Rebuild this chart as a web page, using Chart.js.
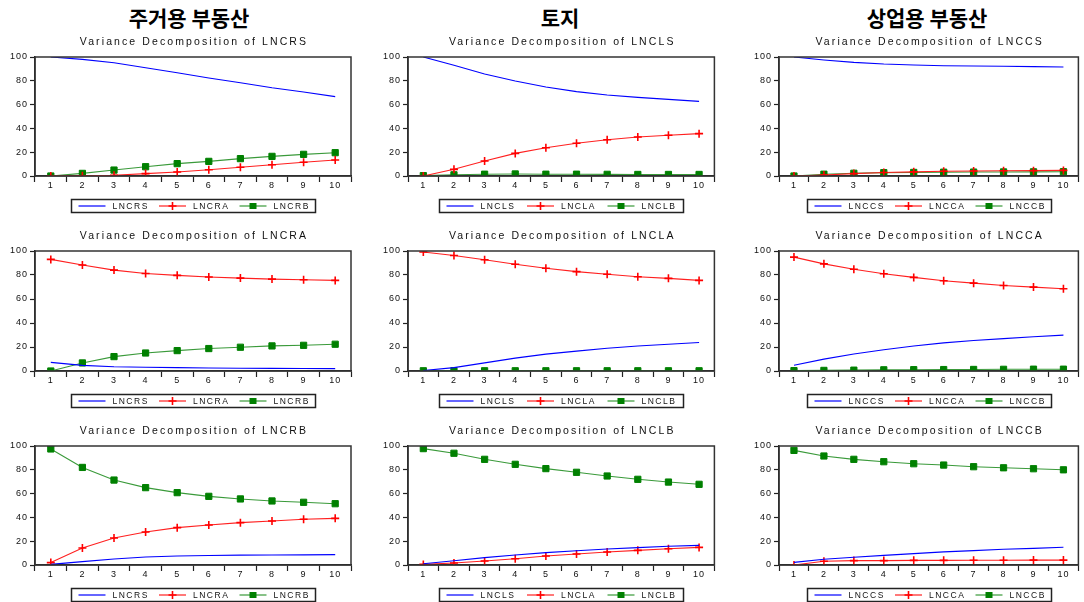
<!DOCTYPE html>
<html>
<head>
<meta charset="utf-8">
<script src="https://cdn.jsdelivr.net/npm/chart.js@4/dist/chart.umd.min.js"></script>
<style>
  body { margin: 0; background: #fff; }
  #wrap { position: relative; width: 1084px; height: 602px; overflow: hidden; }
  .panel { position: absolute; }
  .head {
    position: absolute; top: 4px; width: 300px; text-align: center;
    font-family: "Noto Sans CJK KR", sans-serif; font-weight: bold;
    font-size: 21px; line-height: 26px; color: #000;
  }
</style>
</head>
<body>
<div id="wrap"></div>
<script>
const periods = ['1', '2', '3', '4', '5', '6', '7', '8', '9', '10'];
const groupTitles = ['주거용 부동산', '토지', '상업용 부동산'];
const resLabels = ['LNCRS', 'LNCRA', 'LNCRB'];
const landLabels = ['LNCLS', 'LNCLA', 'LNCLB'];
const comLabels = ['LNCCS', 'LNCCA', 'LNCCB'];

// residential: decomposition of LNCRS / LNCRA / LNCRB
const crs_s = [100, 98, 95.2, 91, 86.8, 82.4, 78.4, 74.2, 70.6, 66.7];
const crs_a = [0, 0.2, 0.6, 2, 3.4, 5.3, 7.3, 9.5, 11.5, 13.4];
const crs_b = [0, 2.2, 5, 7.8, 10.4, 12.3, 14.6, 16.5, 18.2, 19.6];

const cra_s = [7.2, 4.7, 3.6, 3.1, 2.8, 2.5, 2.3, 2.2, 2.1, 2.0];
const cra_a = [93, 88.3, 84.1, 81.3, 79.7, 78.3, 77.4, 76.6, 76, 75.5];
const cra_b = [0, 6.7, 12, 15, 17, 18.7, 19.8, 20.9, 21.4, 22.3];

const crb_s = [0.5, 2.8, 5, 6.7, 7.6, 8, 8.3, 8.4, 8.5, 8.7];
const crb_a = [2, 14.3, 22.7, 27.7, 31.4, 33.6, 35.6, 37, 38.4, 39.2];
const crb_b = [97.5, 82, 71.4, 65, 60.8, 57.7, 55.5, 53.8, 52.7, 51.5];

// land: decomposition of LNCLS / LNCLA / LNCLB
const cls_s = [100, 93, 85.7, 79.8, 74.8, 70.9, 68.1, 66.1, 64.4, 62.7];
const cls_a = [0, 5.6, 12.6, 19, 23.8, 27.5, 30.5, 32.8, 34.2, 35.6];
const cls_b = [0.3, 1.0, 1.5, 1.7, 1.5, 1.5, 1.4, 1.3, 1.3, 1.3];

const cla_s = [0.4, 2.8, 6.8, 10.7, 14.1, 16.6, 18.9, 20.8, 22.3, 23.7];
const cla_a = [99.2, 96.3, 92.7, 89, 85.6, 82.8, 80.6, 78.6, 77.2, 75.5];
const cla_b = [0.2, 0.2, 0.2, 0.2, 0.2, 0.2, 0.2, 0.2, 0.2, 0.2];

const clb_s = [1.1, 3.6, 6.2, 8.4, 10.4, 12, 13.4, 14.6, 15.7, 16.5];
const clb_a = [0.5, 1.7, 3.4, 5.3, 7.6, 9.2, 10.9, 12.3, 13.7, 14.8];
const clb_b = [97.8, 93.9, 88.8, 84.6, 81, 77.9, 74.8, 72, 69.7, 67.8];

// commercial: decomposition of LNCCS / LNCCA / LNCCB
const ccs_s = [100, 97.5, 95.5, 94.1, 93.3, 92.7, 92.4, 92.2, 91.9, 91.6];
const ccs_a = [0, 0.8, 2.0, 3.0, 3.5, 4.0, 4.2, 4.4, 4.5, 4.7];
const ccs_b = [0, 1.5, 2.3, 2.8, 3.0, 3.2, 3.3, 3.4, 3.5, 3.6];

const cca_s = [4.8, 9.9, 14.1, 17.7, 20.8, 23.4, 25.4, 27, 28.5, 29.9];
const cca_a = [94.9, 89.3, 84.8, 81.1, 78, 75.2, 73.2, 71.3, 69.9, 68.5];
const cca_b = [0.3, 0.5, 0.7, 1.0, 1.1, 1.2, 1.3, 1.4, 1.5, 1.5];

const ccb_s = [2.2, 4.8, 6.5, 8.1, 9.6, 11, 12.1, 13.2, 14, 14.9];
const ccb_a = [0, 3.1, 3.7, 3.7, 3.9, 3.9, 4, 4, 4.1, 4.1];
const ccb_b = [96.3, 91.6, 88.8, 86.8, 85.1, 84, 82.6, 81.7, 80.9, 80];

const yTicks = [0, 20, 40, 60, 80, 100];

// panel layout (pixels)
const colLeft = [0, 360, 720];
const colWidth = [360, 360, 364];
const plotLeft = [35, 48, 59];
const padRight = [9, 2, 3];
const rowTop = [0, 215, 410];
const rowHeight = [215, 195, 192];
const plotTop = [57, 36, 36];
const plotBottom = [176, 156, 155];
const headCenter = [189, 560, 927];

const Y_AXIS_W = 30;
const X_AXIS_H = 20;
const FONT = '"Liberation Sans", Arial, sans-serif';

const seriesStyle = [
  { color: '#0000ff', line: '#0000ff', point: false },
  { color: '#ff0000', line: '#ff2020', point: 'cross' },
  { color: '#008000', line: '#3a9a3a', point: 'rect' }
];

function drawMarker(ctx, kind, x, y, color) {
  ctx.save();
  if (kind === 'cross') {
    ctx.strokeStyle = color;
    ctx.lineWidth = 1.6;
    ctx.beginPath();
    ctx.moveTo(x - 4, y); ctx.lineTo(x + 4, y);
    ctx.moveTo(x, y - 4); ctx.lineTo(x, y + 4);
    ctx.stroke();
  } else if (kind === 'rect') {
    ctx.fillStyle = color;
    ctx.fillRect(x - 3.5, y - 3, 7, 6);
  }
  ctx.restore();
}

const decoPlugin = {
  id: 'deco',
  beforeDraw(chart) {
    chart.ctx.letterSpacing = '1px';
  },
  afterDraw(chart, args, opts) {
    const ctx = chart.ctx;
    const a = chart.chartArea;
    const cx = (a.left + a.right) / 2;
    ctx.save();
    // plot frame
    ctx.strokeStyle = '#333';
    ctx.lineWidth = 1.5;
    ctx.strokeRect(a.left, a.top, a.right - a.left, a.bottom - a.top);

    // subtitle
    ctx.letterSpacing = '2.1px';
    ctx.fillStyle = '#111';
    ctx.font = '10.5px ' + FONT;
    ctx.textAlign = 'center';
    ctx.textBaseline = 'middle';
    ctx.fillText(opts.title, cx + 1, a.top - 15);

    // legend box
    const lw = 244, lh = 13;
    const lx = Math.round(cx - lw / 2) + 0.5;
    const ly = Math.round(a.bottom + 23) + 0.5;
    ctx.letterSpacing = '1.5px';
    ctx.fillStyle = '#fff';
    ctx.fillRect(lx, ly, lw, lh);
    ctx.strokeStyle = '#222';
    ctx.lineWidth = 1.5;
    ctx.strokeRect(lx, ly, lw, lh);
    ctx.font = '8.5px ' + FONT;
    ctx.textAlign = 'left';
    chart.data.datasets.forEach((ds, i) => {
      const st = seriesStyle[i];
      const x0 = lx + 7 + i * 80.5;
      const ym = ly + lh / 2;
      ctx.strokeStyle = st.line;
      ctx.lineWidth = 1.2;
      ctx.beginPath();
      ctx.moveTo(x0, ym); ctx.lineTo(x0 + 27, ym);
      ctx.stroke();
      drawMarker(ctx, st.point, x0 + 13.5, ym, st.color);
      ctx.fillStyle = '#111';
      ctx.fillText(ds.label, x0 + 34, ym + 0.5);
    });
    ctx.restore();
  }
};

function makePanel(row, col, title, labels, values) {
  const div = document.createElement('div');
  div.className = 'panel';
  div.style.left = colLeft[col] + 'px';
  div.style.top = rowTop[row] + 'px';
  div.style.width = colWidth[col] + 'px';
  div.style.height = rowHeight[row] + 'px';
  const canvas = document.createElement('canvas');
  div.appendChild(canvas);
  document.getElementById('wrap').appendChild(div);

  const datasets = values.map((v, i) => {
    const st = seriesStyle[i];
    return {
      label: labels[i],
      data: v,
      borderColor: st.line,
      backgroundColor: st.color,
      borderWidth: 1.1,
      tension: 0,
      pointStyle: st.point || 'circle',
      pointRadius: st.point === 'rect' ? 4.4 : (st.point ? 4 : 0),
      pointBorderColor: st.color,
      pointBackgroundColor: st.color,
      pointBorderWidth: st.point === 'cross' ? 1.6 : 1
    };
  });

  new Chart(canvas, {
    type: 'line',
    data: { labels: periods, datasets },
    plugins: [decoPlugin],
    options: {
      responsive: true,
      maintainAspectRatio: false,
      animation: false,
      events: [],
      layout: {
        padding: {
          left: plotLeft[col] - Y_AXIS_W,
          right: padRight[col],
          top: plotTop[row],
          bottom: rowHeight[row] - plotBottom[row] - X_AXIS_H
        }
      },
      plugins: {
        legend: { display: false },
        tooltip: { enabled: false },
        deco: { title: 'Variance Decomposition of ' + title }
      },
      scales: {
        x: {
          type: 'category',
          offset: true,
          afterFit(scale) { scale.height = X_AXIS_H; },
          grid: { offset: true, drawOnChartArea: false, tickLength: 6, color: '#222', tickWidth: 1.2 },
          border: { display: true, color: '#222', width: 1.5 },
          ticks: {
            color: '#111', padding: -2, maxRotation: 0, autoSkip: false,
            font: { size: 9, family: FONT }
          }
        },
        y: {
          min: 0, max: 100,
          afterFit(scale) { scale.width = Y_AXIS_W; },
          afterBuildTicks(scale) { scale.ticks = yTicks.map(v => ({ value: v })); },
          grid: { drawOnChartArea: false, tickLength: 5, color: '#222', tickWidth: 1.2 },
          border: { display: true, color: '#222', width: 1.5 },
          ticks: {
            color: '#111', padding: 2,
            font: { size: 9, family: FONT }
          }
        }
      }
    }
  });
}

groupTitles.forEach((t, i) => {
  const h = document.createElement('div');
  h.className = 'head';
  h.textContent = t;
  h.style.left = (headCenter[i] - 150) + 'px';
  document.getElementById('wrap').appendChild(h);
});

makePanel(0, 0, 'LNCRS', resLabels, [crs_s, crs_a, crs_b]);
makePanel(1, 0, 'LNCRA', resLabels, [cra_s, cra_a, cra_b]);
makePanel(2, 0, 'LNCRB', resLabels, [crb_s, crb_a, crb_b]);
makePanel(0, 1, 'LNCLS', landLabels, [cls_s, cls_a, cls_b]);
makePanel(1, 1, 'LNCLA', landLabels, [cla_s, cla_a, cla_b]);
makePanel(2, 1, 'LNCLB', landLabels, [clb_s, clb_a, clb_b]);
makePanel(0, 2, 'LNCCS', comLabels, [ccs_s, ccs_a, ccs_b]);
makePanel(1, 2, 'LNCCA', comLabels, [cca_s, cca_a, cca_b]);
makePanel(2, 2, 'LNCCB', comLabels, [ccb_s, ccb_a, ccb_b]);
</script>
</body>
</html>
